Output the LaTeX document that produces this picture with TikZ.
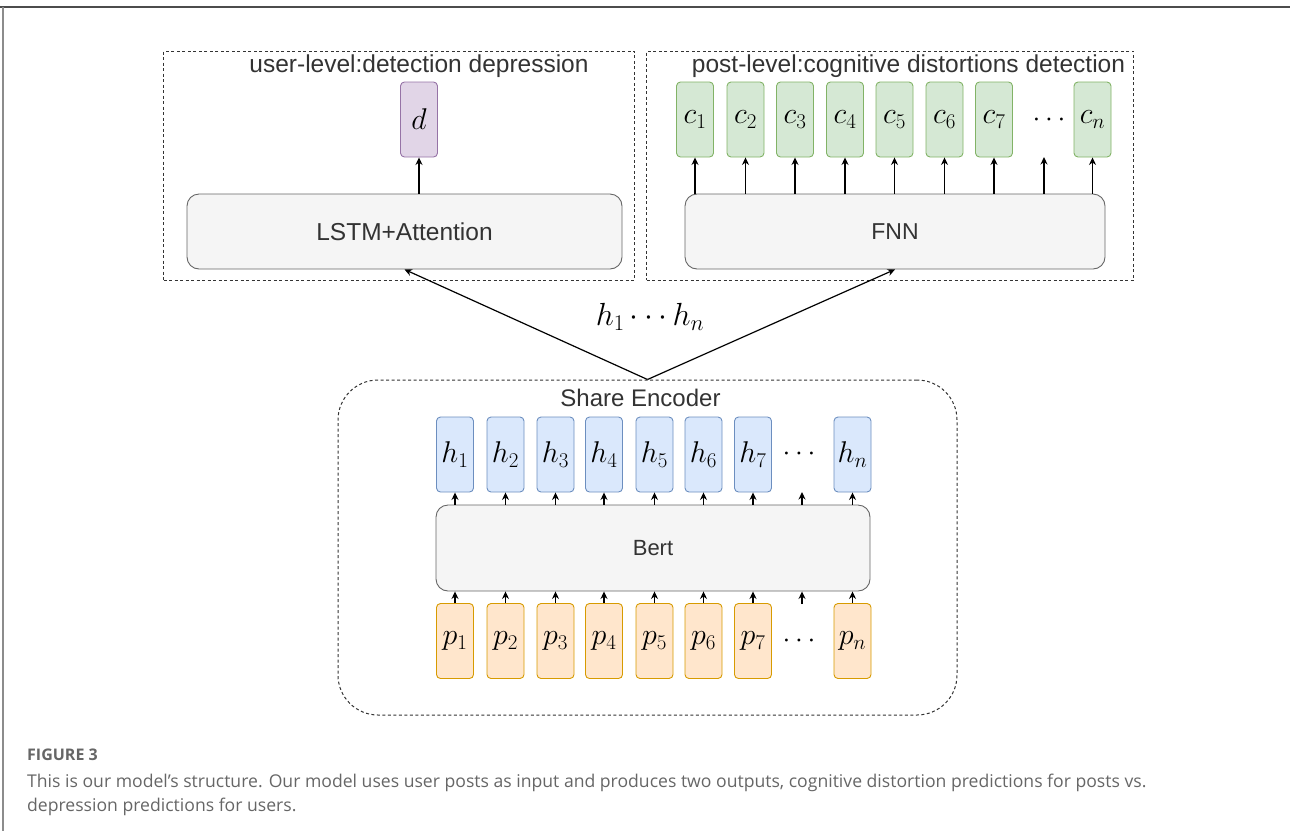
\RequirePackage{fix-cm}
\documentclass[tikz,border=0pt]{standalone}
\usepackage{fontspec}
\setmainfont{Liberation Sans}
\newfontfamily\capfont{Open Sans}
\usetikzlibrary{arrows.meta}
\definecolor{hfill}{HTML}{DAE8FC}\definecolor{hdraw}{HTML}{6C8EBF}
\definecolor{pfill}{HTML}{FFE6CC}\definecolor{pdraw}{HTML}{D79B00}
\definecolor{cfill}{HTML}{D5E8D4}\definecolor{cdraw}{HTML}{82B366}
\definecolor{dfill}{HTML}{E1D5E7}\definecolor{ddraw}{HTML}{9673A6}
\definecolor{gfill}{HTML}{F5F5F5}\definecolor{gdraw}{HTML}{666666}
\definecolor{txt}{HTML}{333333}
\definecolor{captxt}{HTML}{666666}
\tikzset{
  vec/.style={rectangle, rounded corners=4pt, minimum width=37pt, minimum height=75pt, inner sep=0pt, line width=0.9pt, font=\fontsize{30}{30}\selectfont},
  hb/.style={vec, draw=hdraw, fill=hfill},
  pb/.style={vec, draw=pdraw, fill=pfill},
  cb/.style={vec, draw=cdraw, fill=cfill},
  db/.style={vec, draw=ddraw, fill=dfill},
  big/.style={rectangle, rounded corners=12pt, draw=gdraw, fill=gfill, line width=0.9pt, inner sep=0pt, text=txt},
  dbox/.style={draw=black!80, dash pattern=on 3pt off 2.5pt, line width=1pt},
  arr/.style={-{Stealth[length=7.5pt,width=7pt]}, line width=1.3pt, black},
  ttl/.style={text=txt, inner sep=0pt, font=\fontsize{24.5}{24.5}\selectfont},
  dotsl/.style={inner sep=0pt, font=\fontsize{28}{28}\selectfont},
}
\begin{document}
\begin{tikzpicture}[x=1pt,y=-1pt]
\useasboundingbox (0,0) rectangle (1290,831);
% page frame
\draw[line width=2pt, black!70] (0,7) -- (1290,7);
\draw[line width=1.2pt, black!45] (3,7) -- (3,831);

% dashed boxes top
\node[dbox, rectangle, minimum width=471pt, minimum height=229pt, inner sep=0pt] (ubox) at (399,165.5) {};
\node[dbox, rectangle, minimum width=487pt, minimum height=229pt, inner sep=0pt] (pbox) at (890,165.5) {};
\node[ttl] (utitle) at (419,66) {user-level:detection depression};
\node[ttl] (ptitle) at (908.5,66) {post-level:cognitive distortions detection};

% user level
\node[db] (d) at (419,119.5) {$d$};
\node[big, minimum width=435pt, minimum height=75pt, font=\fontsize{24.5}{24.5}\selectfont] (lstm) at (404.5,231.5) {LSTM+Attention};
\draw[arr] (lstm.north -| d) -- (d.south);

% post level
\node[big, minimum width=420pt, minimum height=75pt, font=\fontsize{23}{23}\selectfont] (fnn) at (895,231.5) {FNN};
\foreach \i/\x in {1/695,2/745.5,3/795,4/845,5/894.5,6/944.5,7/994}{
  \node[cb] (c\i) at (\x,119.5) {$c_{\i}$};
  \draw[arr] (fnn.north -| c\i) -- (c\i.south);
}
\node[cb] (cn) at (1092.5,119.5) {$c_n$};
\draw[arr] (fnn.north -| cn) -- (cn.south);
\node[dotsl] (cdots) at (1049,120) {$\cdots$};
\coordinate (cdarr) at (1044,157);
\draw[arr] (fnn.north -| cdarr) -- (cdarr);

% encoder
\node[draw=black!80, dash pattern=on 3pt off 2.5pt, line width=1pt, rectangle, rounded corners=40pt, minimum width=619pt, minimum height=335pt, inner sep=0pt] (enc) at (647.5,547.5) {};
\node[ttl, font=\fontsize{24}{24}\selectfont] (etitle) at (640.5,398) {Share Encoder};
\node[big, minimum width=434pt, minimum height=86pt, font=\fontsize{22}{22}\selectfont] (bert) at (653,548) {Bert};
\foreach \i/\x in {1/455,2/505.5,3/555.5,4/604,5/654.5,6/703.5,7/753}{
  \node[hb] (h\i) at (\x,454.5) {$h_{\i}$};
  \node[pb] (p\i) at (\x,641) {$p_{\i}$};
  \draw[arr] (p\i.north) -- (p\i.north |- bert.south);
  \draw[arr] (h\i.south |- bert.north) -- (h\i.south);
}
\node[hb] (hn) at (852.5,454.5) {$h_n$};
\node[pb] (pn) at (852.5,641) {$p_n$};
\draw[arr] (pn.north) -- (pn.north |- bert.south);
\draw[arr] (hn.south |- bert.north) -- (hn.south);
\node[dotsl] (hdots) at (799,454) {$\cdots$};
\node[dotsl] (pdots) at (799,641) {$\cdots$};
\coordinate (hdarr) at (802,492);
\coordinate (pdarr) at (802,604);
\draw[arr] (pdarr) -- (pdarr |- bert.south);
\draw[arr] (hdarr |- bert.north) -- (hdarr);

% links to heads
\draw[arr, line width=1.2pt] (enc.north) -- (lstm.south);
\draw[arr, line width=1.2pt] (enc.north) -- (fnn.south);
\node[inner sep=0pt, font=\fontsize{32}{32}\selectfont] (hlabel) at (650,317) {$h_1\cdots h_n$};

% caption
\node[anchor=base west, inner sep=0pt, text=captxt, font=\capfont\bfseries\fontsize{16}{16}\selectfont] (fig) at (27,760) {FIGURE 3};
\node[anchor=base west, inner sep=0pt, text=captxt, font=\capfont\fontsize{17.6}{17.6}\selectfont] (cap1) at (27,787) {This is our model’s structure. Our model uses user posts as input and produces two outputs, cognitive distortion predictions for posts vs.};
\node[anchor=base west, inner sep=0pt, text=captxt, font=\capfont\fontsize{17.6}{17.6}\selectfont] (cap2) at (27,811) {depression predictions for users.};
\end{tikzpicture}
\end{document}
